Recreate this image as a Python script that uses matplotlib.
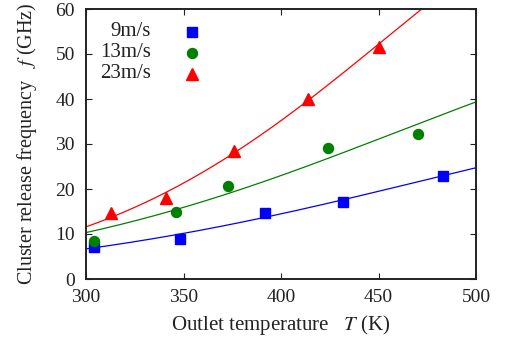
import numpy as np
import matplotlib
matplotlib.use("Agg")
import matplotlib.pyplot as plt

plt.rcParams['font.family'] = ['Liberation Serif', 'DejaVu Serif']
plt.rcParams['mathtext.fontset'] = 'stix'

# data points
T_9 = [304, 348, 392, 432, 483]
f_9 = [7.1, 8.9, 14.7, 17.1, 22.9]
T_13 = [304, 346, 373, 424, 470]
f_13 = [8.5, 14.9, 20.7, 29.1, 32.2]
T_23 = [313, 341, 376, 414, 450]
f_23 = [14.7, 18.1, 28.4, 40.0, 51.5]

# fitted curves (values of the drawn fit lines)
fitT_9 = [300, 366.7, 433.3, 500]
fitf_9 = [6.67, 11.6, 17.6, 24.8]
fitT_13 = [300, 366.7, 433.3, 500]
fitf_13 = [10.3, 18.2, 28.2, 39.4]
fitT_23 = [300, 366.7, 413.7, 472.3]
fitf_23 = [11.6, 25.4, 39.8, 60.0]

labels = ['9m/s', '13m/s', '23m/s']
colors = ['#0000ff', '#008000', '#ff0000']
markers = ['s', 'o', '^']
msizes = [6.5, 7.2, 8.5]

fig = plt.figure(figsize=(5.07, 3.49), dpi=100)
ax = fig.add_axes([86/507, 1-279/349, 390/507, 270/349])

Tfit = np.linspace(300, 500, 300)
series = [(T_9, f_9, fitT_9, fitf_9), (T_13, f_13, fitT_13, fitf_13),
          (T_23, f_23, fitT_23, fitf_23)]
for (T, f, fT, ff), c, m, ms in zip(series, colors, markers, msizes):
    coef = np.polyfit(np.array(fT) - 300, np.log(ff), 2)
    ax.plot(Tfit, np.exp(np.polyval(coef, Tfit - 300)), color=c, lw=0.9, zorder=2)
    ax.plot(T, f, ls='none', marker=m, ms=ms, color=c, mec=c, zorder=3)

# legend (gnuplot style: text right-aligned, marker on the right)
for i, (lab, c, m, ms) in enumerate(zip(labels, colors, markers, msizes)):
    y = 1 - (31.5 + 21 * i - 9) / 270
    ax.text((151 - 86) / 390, y, lab, transform=ax.transAxes, ha='right',
            va='center', fontsize=15, color='#222222')
    ax.plot([(192 - 86) / 390], [y], transform=ax.transAxes, marker=m, ms=ms,
            color=c, ls='none', clip_on=False)

ax.set_xlim(300, 500)
ax.set_ylim(0, 60)
ax.set_xticks([300, 350, 400, 450, 500])
ax.set_yticks([0, 10, 20, 30, 40, 50, 60])
ax.tick_params(direction='in', length=4.5, width=0.8, top=True, right=True,
               labelsize=14, colors='#222222')
ax.tick_params(axis='x', pad=7)
ax.tick_params(axis='y', pad=8)
for s in ax.spines.values():
    s.set_linewidth(1.4)
    s.set_color('#222222')

ax.set_xlabel(r'Outlet temperature   $T$ (K)', fontsize=15, labelpad=5,
              color='#222222')
ax.set_ylabel(r'Cluster release frequency   $f$ (GHz)', fontsize=14.5, labelpad=12,
              color='#222222')

fig.savefig('out.png', dpi=100)
